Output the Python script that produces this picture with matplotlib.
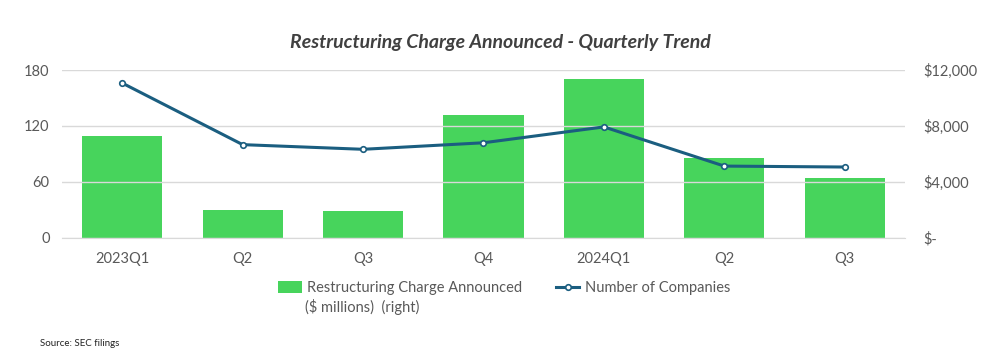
import matplotlib
matplotlib.use("Agg")
import matplotlib.pyplot as plt
from matplotlib.ticker import FuncFormatter

# data
quarters = ["2023Q1", "Q2", "Q3", "Q4", "2024Q1", "Q2", "Q3"]
charge_musd = [7290, 2000, 1930, 8790, 11360, 5710, 4290]   # right axis
n_companies = [166, 100, 95, 102, 119, 77, 76]              # left axis
left_ticks = [0, 60, 120, 180]
right_ticks = [0, 4000, 8000, 12000]

green = "#47d45c"
navy = "#1b5e80"
grey = "#595959"

plt.rcParams["font.family"] = ["Lato", "DejaVu Sans"]

fig = plt.figure(figsize=(10.01, 3.61), dpi=100)
ax = fig.add_axes([0.062, 0.341, 0.842, 0.465])
ax2 = ax.twinx()

x = range(len(quarters))

# bars on the right ($) axis, line on the left axis; bars underneath
ax2.set_zorder(0)
ax.set_zorder(1)
ax.patch.set_visible(False)

bars = ax2.bar(x, charge_musd, width=0.665, color=green, zorder=2,
               label="Restructuring Charge Announced")
line, = ax.plot(x, n_companies, color=navy, lw=2.2, marker="o", ms=4,
                mfc="white", mec=navy, mew=1.2, zorder=3,
                label="Number of Companies")

ax.set_ylim(0, 180)
ax2.set_ylim(0, 12000)
ax.set_xlim(-0.5, len(quarters) - 0.5)
ax.set_yticks(left_ticks)
ax2.set_yticks(right_ticks)
ax2.yaxis.set_major_formatter(FuncFormatter(lambda v, p: "$-" if v == 0 else f"${v:,.0f}"))

ax.set_xticks(list(x))
ax.set_xticklabels(quarters)

ax.grid(axis="y", color="#d9d9d9", lw=1)
ax.set_axisbelow(True)
for a in (ax, ax2):
    for s in a.spines.values():
        s.set_visible(False)
    a.tick_params(length=0, labelsize=10.5, labelcolor=grey)
ax.spines["bottom"].set_visible(True)
ax.spines["bottom"].set_color("#d9d9d9")
ax.tick_params(axis="y", pad=9)
ax.tick_params(axis="x", pad=10)
ax2.tick_params(axis="y", pad=13)

fig.text(0.5, 0.882, "Restructuring Charge Announced - Quarterly Trend",
         ha="center", va="center", fontsize=14, fontweight="bold",
         style="italic", color="#404040")

leg = fig.legend(handles=[bars, line], loc="center", ncol=2,
                 bbox_to_anchor=(0.504, 1 - 288 / 361), frameon=False,
                 prop={"size": 10.5}, handlelength=1.6, handletextpad=0.4,
                 columnspacing=2.3, handleheight=0.9)
for t in leg.get_texts():
    t.set_color(grey)

# second line of the first legend entry, placed under its text
fig.canvas.draw()
bb = leg.get_texts()[0].get_window_extent().transformed(fig.transFigure.inverted())
fig.text(bb.x0 - 0.002, bb.y0 - 0.012, "($ millions)  (right)", fontsize=10.5,
         color=grey, va="top", ha="left")

fig.text(0.04, 0.042, "Source: SEC filings", fontsize=7, color="#222222")

fig.savefig("out.png", dpi=100)
